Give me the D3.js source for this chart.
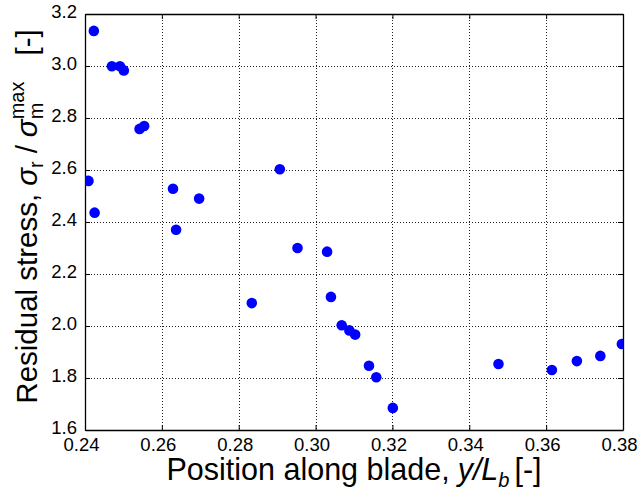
<!DOCTYPE html>
<html>
<head>
<meta charset="utf-8">
<script src="https://cdn.jsdelivr.net/npm/d3@7"></script>
<style>
  html, body { margin: 0; padding: 0; background: #fff; }
  svg { display: block; }
  text { font-family: "Liberation Sans", Arial, Helvetica, sans-serif; fill: #000; }
</style>
</head>
<body>
<svg id="chart" width="637" height="489"></svg>
<script>
// ---- data ----
const positions = [0.2423, 0.2470, 0.2491, 0.2501, 0.2542, 0.2554, 0.2409, 0.2425, 0.2629, 0.2637,
                   0.2697, 0.2907, 0.2834, 0.2953, 0.3030, 0.3040, 0.3068, 0.3088, 0.3103, 0.3139,
                   0.3158, 0.3201, 0.3476, 0.3615, 0.3680, 0.3741, 0.3797];
const stresses  = [3.135, 2.999, 2.999, 2.983, 2.758, 2.769, 2.558, 2.436, 2.528, 2.370,
                   2.490, 2.603, 2.088, 2.300, 2.286, 2.112, 2.003, 1.983, 1.967, 1.847,
                   1.803, 1.685, 1.854, 1.831, 1.865, 1.885, 1.931];
const xTicks = [0.24, 0.26, 0.28, 0.30, 0.32, 0.34, 0.36, 0.38];
const yTicks = [1.6, 1.8, 2.0, 2.2, 2.4, 2.6, 2.8, 3.0, 3.2];
const xDomain = [0.24, 0.38];
const yDomain = [1.6, 3.2];

// ---- layout ----
const L = 85, R = 623, T = 14, B = 430;
const svg = d3.select("#chart");
const x = d3.scaleLinear().domain(xDomain).range([L, R]);
const y = d3.scaleLinear().domain(yDomain).range([B, T]);

// grid
const grid = svg.append("g").attr("stroke", "#222").attr("stroke-width", 1).attr("stroke-dasharray", "1,2");
grid.selectAll("line.gx").data(xTicks.slice(1, -1)).enter().append("line")
  .attr("x1", d => Math.round(x(d)) + 0.5).attr("x2", d => Math.round(x(d)) + 0.5)
  .attr("y1", T).attr("y2", B);
grid.selectAll("line.gy").data(yTicks.slice(1, -1)).enter().append("line")
  .attr("y1", d => Math.round(y(d)) + 0.5).attr("y2", d => Math.round(y(d)) + 0.5)
  .attr("x1", L).attr("x2", R);

// axes (ticks inward on all four sides)
const fmtX = d3.format(".2f"), fmtY = d3.format(".1f");
const axB = svg.append("g").attr("transform", `translate(0,${B})`)
  .call(d3.axisBottom(x).tickValues(xTicks).tickFormat(fmtX).tickSizeInner(-5).tickSizeOuter(0).tickPadding(8));
const axT = svg.append("g").attr("transform", `translate(0,${T})`)
  .call(d3.axisTop(x).tickValues(xTicks).tickFormat("").tickSizeInner(-5).tickSizeOuter(0));
const axL = svg.append("g").attr("transform", `translate(${L},0)`)
  .call(d3.axisLeft(y).tickValues(yTicks).tickFormat(fmtY).tickSizeInner(-5).tickSizeOuter(0).tickPadding(8));
const axR = svg.append("g").attr("transform", `translate(${R},0)`)
  .call(d3.axisRight(y).tickValues(yTicks).tickFormat("").tickSizeInner(-5).tickSizeOuter(0));
[axB, axT, axL, axR].forEach(a => {
  a.select(".domain").attr("stroke", "#000").attr("stroke-width", 1.3);
  a.selectAll(".tick line").attr("stroke", "#000");
  a.selectAll("text").style("font-size", "18.5px").attr("fill", "#000");
});
axB.selectAll("text").attr("x", -4);
axL.selectAll("text").attr("dy", "0.52em").attr("y", -6);

// points (clipped to plot area)
svg.append("clipPath").attr("id", "clip").append("rect")
  .attr("x", L).attr("y", T).attr("width", R - L).attr("height", B - T);
svg.append("g").attr("clip-path", "url(#clip)")
  .selectAll("circle").data(positions.map((p, i) => [p, stresses[i]])).enter().append("circle")
  .attr("cx", d => x(d[0])).attr("cy", d => y(d[1])).attr("r", 5.3).attr("fill", "#0000ff");

// helper: build a label from pieces, measuring each piece
function buildLabel(g, pieces) {
  let cursor = 0;
  pieces.forEach(p => {
    if (p.gap) { cursor += p.gap; return; }
    let w = 0;
    p.parts.forEach(part => {
      const t = g.append("text").attr("x", cursor).attr("y", part.dy || 0)
        .style("font-size", part.size + "px")
        .style("font-style", part.italic ? "italic" : "normal")
        .text(part.text);
      w = Math.max(w, t.node().getComputedTextLength());
    });
    cursor += w;
  });
  return cursor;
}

// x-axis title
const gx = svg.append("g");
const wx = buildLabel(gx, [
  { parts: [{ text: "Position along blade,", size: 30.5 }] },
  { gap: 8 },
  { parts: [{ text: "y/L", size: 30.5, italic: true }] },
  { parts: [{ text: "b", size: 20, italic: true, dy: 7 }] },
  { gap: 5 },
  { parts: [{ text: "[-]", size: 30.5 }] }
]);
gx.attr("transform", `translate(${(L + R) / 2 - wx / 2},480)`);

// y-axis title
const gy = svg.append("g");
const wy = buildLabel(gy, [
  { parts: [{ text: "Residual stress,", size: 29.5 }] },
  { gap: 8 },
  { parts: [{ text: "σ", size: 29.5, italic: true }] },
  { parts: [{ text: "r", size: 20, dy: 6 }] },
  { gap: 8 },
  { parts: [{ text: "/", size: 29.5 }] },
  { gap: 8 },
  { parts: [{ text: "σ", size: 29.5, italic: true }] },
  { parts: [{ text: "m", size: 20, dy: 6 }, { text: "max", size: 20, dy: -13 }] },
  { gap: 26 },
  { parts: [{ text: "[-]", size: 29.5 }] }
]);
gy.attr("transform", `translate(37,${216.5 + wy / 2}) rotate(-90)`);
</script>
</body>
</html>
